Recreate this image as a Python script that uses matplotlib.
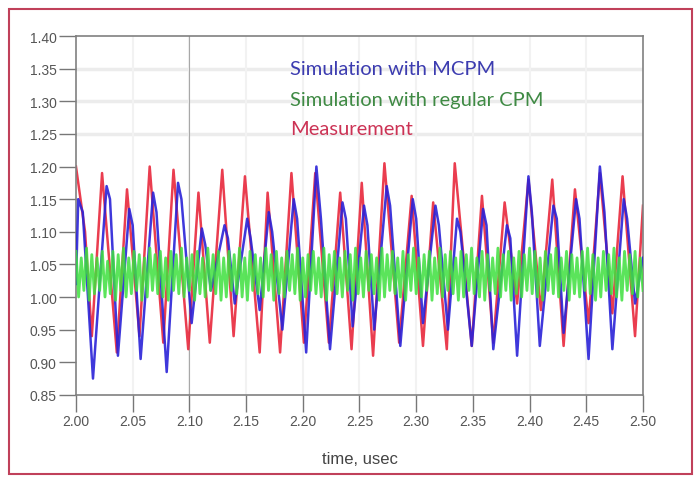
import numpy as np
import matplotlib
matplotlib.use("Agg")
import matplotlib.pyplot as plt
from matplotlib.patches import Rectangle

meas_t = [2.000, 2.008, 2.014, 2.023, 2.036, 2.045, 2.056, 2.065, 2.077, 2.086,
          2.099, 2.108, 2.118, 2.129, 2.139, 2.149, 2.162, 2.169, 2.180, 2.190,
          2.201, 2.211, 2.223, 2.233, 2.243, 2.252, 2.262, 2.272, 2.285, 2.296,
          2.306, 2.315, 2.327, 2.334, 2.349, 2.358, 2.368, 2.378, 2.389, 2.399,
          2.410, 2.420, 2.430, 2.440, 2.452, 2.462, 2.473, 2.482, 2.493, 2.500]
meas_v = [1.20, 1.10, 0.94, 1.19, 0.915, 1.165, 0.94, 1.20, 0.93, 1.195,
          0.92, 1.16, 0.93, 1.195, 0.94, 1.185, 0.915, 1.16, 0.915, 1.19,
          0.93, 1.19, 0.93, 1.16, 0.92, 1.175, 0.91, 1.205, 0.93, 1.155,
          0.925, 1.145, 0.92, 1.205, 0.925, 1.155, 0.93, 1.145, 0.99, 1.18,
          0.98, 1.18, 0.925, 1.165, 0.96, 1.19, 0.975, 1.185, 0.94, 1.14]

# simulation with MCPM (blue): peak, shoulder, trough per cycle
mcpm_t = [2.000, 2.002, 2.006, 2.015, 2.027, 2.030, 2.037, 2.047, 2.050, 2.057,
          2.068, 2.071, 2.080, 2.090, 2.093, 2.102, 2.111, 2.114, 2.119, 2.131,
          2.134, 2.140, 2.151, 2.154, 2.162, 2.170, 2.173, 2.182, 2.192, 2.195,
          2.203, 2.212, 2.216, 2.224, 2.235, 2.238, 2.244, 2.254, 2.257, 2.263,
          2.274, 2.277, 2.286, 2.297, 2.300, 2.306, 2.317, 2.320, 2.328, 2.336,
          2.339, 2.349, 2.359, 2.362, 2.368, 2.380, 2.383, 2.389, 2.399, 2.402,
          2.409, 2.421, 2.424, 2.430, 2.441, 2.444, 2.452, 2.462, 2.466, 2.473,
          2.483, 2.486, 2.493, 2.500]
mcpm_v = [1.02, 1.15, 1.13, 0.875, 1.17, 1.15, 0.91, 1.135, 1.11, 0.905,
          1.16, 1.13, 0.885, 1.175, 1.15, 0.96, 1.105, 1.08, 1.01, 1.11,
          1.09, 0.99, 1.12, 1.09, 0.98, 1.13, 1.10, 0.95, 1.15, 1.12,
          0.915, 1.20, 1.12, 0.92, 1.145, 1.12, 0.955, 1.14, 1.11, 0.95,
          1.17, 1.14, 0.925, 1.15, 1.12, 0.96, 1.14, 1.11, 0.95, 1.12,
          1.10, 0.925, 1.135, 1.11, 0.92, 1.11, 1.09, 0.91, 1.185, 1.13,
          0.925, 1.14, 1.12, 0.945, 1.15, 1.12, 0.905, 1.20, 1.13, 0.92,
          1.15, 1.12, 0.99, 1.06]

# simulation with regular CPM (green): fast ripple, highs and lows
cpm_hi = [1.07, 1.06, 1.075, 1.065, 1.06, 1.07, 1.055, 1.07, 1.065, 1.075,
          1.06, 1.07, 1.065, 1.06, 1.075, 1.065, 1.07, 1.06, 1.07, 1.065,
          1.075, 1.06, 1.065, 1.07, 1.06, 1.075, 1.065, 1.07, 1.06, 1.07,
          1.065, 1.075, 1.06, 1.07, 1.065, 1.06, 1.075, 1.065, 1.07, 1.06,
          1.07, 1.065, 1.075, 1.06, 1.065, 1.07, 1.06, 1.075, 1.065, 1.07,
          1.06, 1.07, 1.065, 1.075, 1.06, 1.07, 1.065, 1.06, 1.075, 1.065,
          1.07, 1.06, 1.07, 1.065, 1.075, 1.06, 1.065, 1.07, 1.06, 1.075,
          1.065, 1.07, 1.06, 1.07, 1.065, 1.075, 1.06, 1.07, 1.065, 1.06,
          1.075, 1.065, 1.07, 1.06, 1.07, 1.065, 1.075, 1.07, 1.06, 1.07,
          1.065, 1.075, 1.06, 1.07, 1.065, 1.06, 1.07, 1.075, 1.065, 1.06,
          1.07, 1.065, 1.075, 1.06, 1.07, 1.065, 1.07, 1.06]
cpm_lo = [1.00, 1.01, 0.995, 1.005, 1.01, 1.00, 1.005, 0.995, 1.01, 1.00,
          1.005, 1.01, 0.995, 1.00, 1.01, 1.005, 1.00, 0.995, 1.01, 1.005,
          1.00, 1.01, 0.995, 1.005, 1.00, 1.01, 1.005, 0.995, 1.00, 1.01,
          1.005, 1.00, 0.995, 1.01, 1.005, 1.00, 1.01, 0.995, 1.005, 1.00,
          1.01, 1.005, 0.995, 1.00, 1.01, 1.005, 1.00, 0.995, 1.01, 1.005,
          1.00, 1.01, 0.995, 1.005, 1.00, 1.01, 1.005, 0.995, 1.00, 1.01,
          1.005, 1.00, 0.995, 1.01, 1.005, 1.00, 1.01, 0.995, 1.005, 1.00,
          1.01, 1.005, 0.995, 1.00, 1.01, 1.005, 1.00, 0.995, 1.01, 1.005,
          1.00, 1.01, 0.995, 1.005, 1.00, 1.01, 1.005, 1.00, 0.995, 1.01,
          1.005, 1.00, 1.01, 0.995, 1.005, 1.00, 1.01, 1.005, 0.995, 1.00,
          1.01, 1.005, 1.00, 0.995, 1.01, 1.005, 1.00, 1.01]

x_ticks = [2.00, 2.05, 2.10, 2.15, 2.20, 2.25, 2.30, 2.35, 2.40, 2.45, 2.50]
y_ticks = [0.85, 0.90, 0.95, 1.00, 1.05, 1.10, 1.15, 1.20, 1.25, 1.30, 1.35, 1.40]

cpm_v = [v for pair in zip(cpm_hi, cpm_lo) for v in pair]
cpm_t = np.linspace(2.0, 2.5, len(cpm_v))

fig = plt.figure(figsize=(6.97, 4.81), dpi=100)
ax = fig.add_axes([0.109, 0.177, 0.8135, 0.746])

# faint grid like the original screenshot
for y in [1.25, 1.30, 1.35]:
    ax.axhline(y, color="#ececec", lw=2.5, zorder=0)
for x in x_ticks[1:-1]:
    ax.axvline(x, color="#f2f2f2", lw=1.5, zorder=0)
ax.axvline(2.10, color="#a8a8a8", lw=0.8, zorder=0)

ax.plot(meas_t, meas_v, color="#e8283c", lw=1.8, alpha=0.9, zorder=2,
        solid_joinstyle="round")
ax.plot(mcpm_t, mcpm_v, color="#2a22d8", lw=1.8, alpha=0.9, zorder=3,
        solid_joinstyle="round")
ax.plot(cpm_t, cpm_v, color="#3ee03e", lw=2.0, alpha=0.85, zorder=4)

ax.set_xlim(2.0, 2.5)
ax.set_ylim(0.85, 1.40)
ax.set_xticks(x_ticks)
ax.set_xticklabels([f"{v:.2f}" for v in x_ticks])
ax.set_yticks(y_ticks)
ax.set_yticklabels([f"{v:.2f}" for v in y_ticks])
ax.tick_params(length=12, width=1, color="#777777", labelcolor="#555555",
               labelsize=10, pad=2)
for lab in ax.get_xticklabels() + ax.get_yticklabels():
    lab.set_family("Liberation Sans")
for s in ax.spines.values():
    s.set_color("#808080")
    s.set_linewidth(1.2)

ax.set_xlabel("time, usec", fontsize=12, color="#444444",
              family="Liberation Sans", labelpad=16)

ax.text(0.378, 0.895, "Simulation with MCPM", transform=ax.transAxes,
        color="#3c3cb0", fontsize=14.5, family="Lato")
ax.text(0.378, 0.809, "Simulation with regular CPM", transform=ax.transAxes,
        color="#3f8a44", fontsize=14.5, family="Lato")
ax.text(0.378, 0.728, "Measurement", transform=ax.transAxes,
        color="#cc3355", fontsize=14.5, family="Lato")

# reddish frame around the whole picture
fig.patches.append(Rectangle((0.013, 0.012), 0.98, 0.968, transform=fig.transFigure,
                             fill=False, edgecolor="#c0405a", lw=1.5))

fig.savefig("out.png", dpi=100)
